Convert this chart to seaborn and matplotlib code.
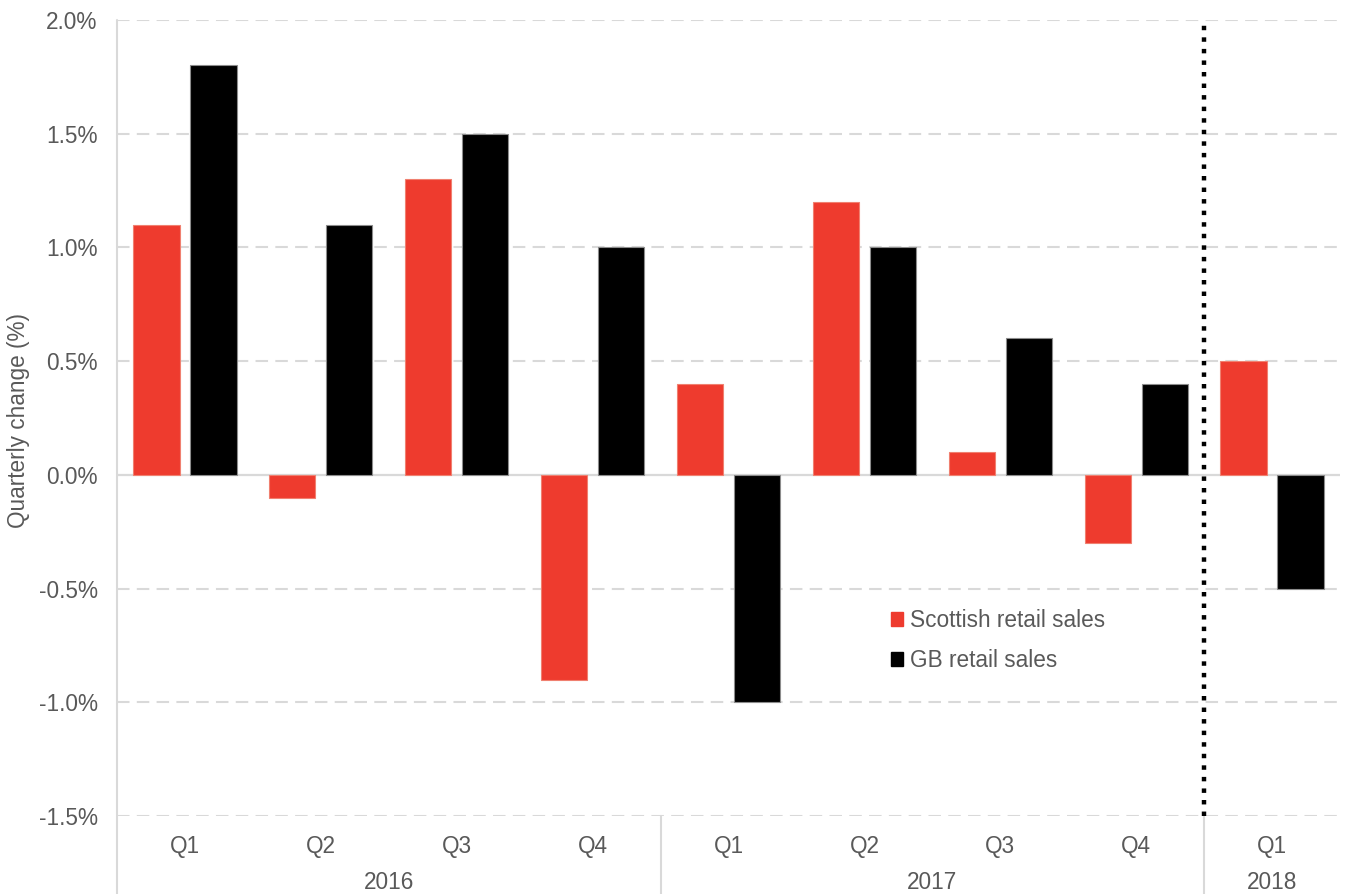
import matplotlib
matplotlib.use("Agg")
import matplotlib.pyplot as plt
import matplotlib.transforms as mtransforms
from matplotlib.patches import Patch
import seaborn as sns
import pandas as pd

# ---- data ----
quarters = ["Q1", "Q2", "Q3", "Q4", "Q1", "Q2", "Q3", "Q4", "Q1"]
years = ["2016", "2016", "2016", "2016", "2017", "2017", "2017", "2017", "2018"]
scottish = [1.1, -0.1, 1.3, -0.9, 0.4, 1.2, 0.1, -0.3, 0.5]
gb = [1.8, 1.1, 1.5, 1.0, -1.0, 1.0, 0.6, 0.4, -0.5]
series_names = ["Scottish retail sales", "GB retail sales"]
year_labels = ["2016", "2017", "2018"]
yticks = [-1.5, -1.0, -0.5, 0.0, 0.5, 1.0, 1.5, 2.0]

RED = "#EE3B2E"
BLACK = "#000000"
GRAY_TXT = "#595959"
GRID = "#d9d9d9"
FS = 16.3

keys = [f"{y} {q}" for y, q in zip(years, quarters)]
df = pd.DataFrame({
    "period": keys * 2,
    "value": scottish + gb,
    "series": [series_names[0]] * len(keys) + [series_names[1]] * len(keys),
})

sns.set_theme(style="white")
plt.rcParams["font.family"] = ["Liberation Sans", "DejaVu Sans"]

fig = plt.figure(figsize=(13.46, 8.94), dpi=100)
ax = fig.add_axes([117 / 1346, 78 / 894, (1340 - 117) / 1346, (816 - 20) / 894])

sns.barplot(data=df, x="period", y="value", hue="series", order=keys,
            hue_order=series_names, palette=[RED, BLACK], width=0.84, gap=0.19,
            saturation=1, ax=ax, legend=False, zorder=3)

for bar_container, ec in zip(ax.containers, ["#f08070", "#8c8c8c"]):
    for p in bar_container:
        p.set_edgecolor(ec)
        p.set_linewidth(0.8)

ax.set_xlim(-0.5, len(keys) - 0.5)
ax.set_ylim(-1.5, 2.0)
ax.set_yticks(yticks)
ax.set_yticklabels([f"{v:.1f}%" for v in yticks], color=GRAY_TXT, fontsize=FS)
ax.tick_params(axis="y", length=0, pad=14)
ax.tick_params(axis="x", length=0, pad=14)
ax.set_xticks(range(len(keys)))
ax.set_xticklabels(quarters, color=GRAY_TXT, fontsize=FS)
ax.set_xlabel("")
ax.set_ylabel("")
fig.text(19 / 1346, 1 - 421 / 894, "Quarterly change (%)", rotation=90,
         ha="center", va="center", color=GRAY_TXT, fontsize=FS)

for v in yticks:
    if v == 0.0:
        ax.axhline(v, color=GRID, lw=1.6, zorder=1)
    else:
        ax.axhline(v, color=GRID, lw=1.5, linestyle=(0, (6, 3.5)), zorder=1)

for s in ["top", "right", "bottom", "left"]:
    ax.spines[s].set_visible(False)

trans = mtransforms.blended_transform_factory(ax.transData, ax.transAxes)
# left axis line extended to figure bottom
ax.plot([-0.5, -0.5], [-0.1, 1.0], transform=trans, color=GRID, lw=1.5,
        clip_on=False, zorder=2)
# year separators below the axis
for xs in [3.5, 7.5]:
    ax.plot([xs, xs], [-0.1, 0.0], transform=trans, color=GRID, lw=1.5,
            clip_on=False, zorder=2)

# year labels
year_centers = {}
for i, y in enumerate(years):
    year_centers.setdefault(y, []).append(i)
for y in year_labels:
    idx = year_centers[y]
    cx = (min(idx) + max(idx)) / 2
    ax.text(cx, -0.0835, y, transform=trans, ha="center", va="center",
            color=GRAY_TXT, fontsize=FS)

# dotted divider before 2018
ax.axvline(7.5, ymin=0, ymax=1, color="black", lw=3.2,
           linestyle=(0, (1, 1.6)), zorder=4)

handles = [Patch(facecolor=RED, edgecolor=RED), Patch(facecolor=BLACK, edgecolor=BLACK)]
leg = ax.legend(handles, series_names, loc="upper left",
                bbox_to_anchor=(891 / 1346, 1 - 609 / 894), bbox_transform=fig.transFigure,
                frameon=False, fontsize=FS, handlelength=0.55, handleheight=0.55,
                handletextpad=0.3, labelspacing=0.75, borderpad=0, borderaxespad=0)
for t in leg.get_texts():
    t.set_color(GRAY_TXT)

fig.savefig("out.png", dpi=100)
